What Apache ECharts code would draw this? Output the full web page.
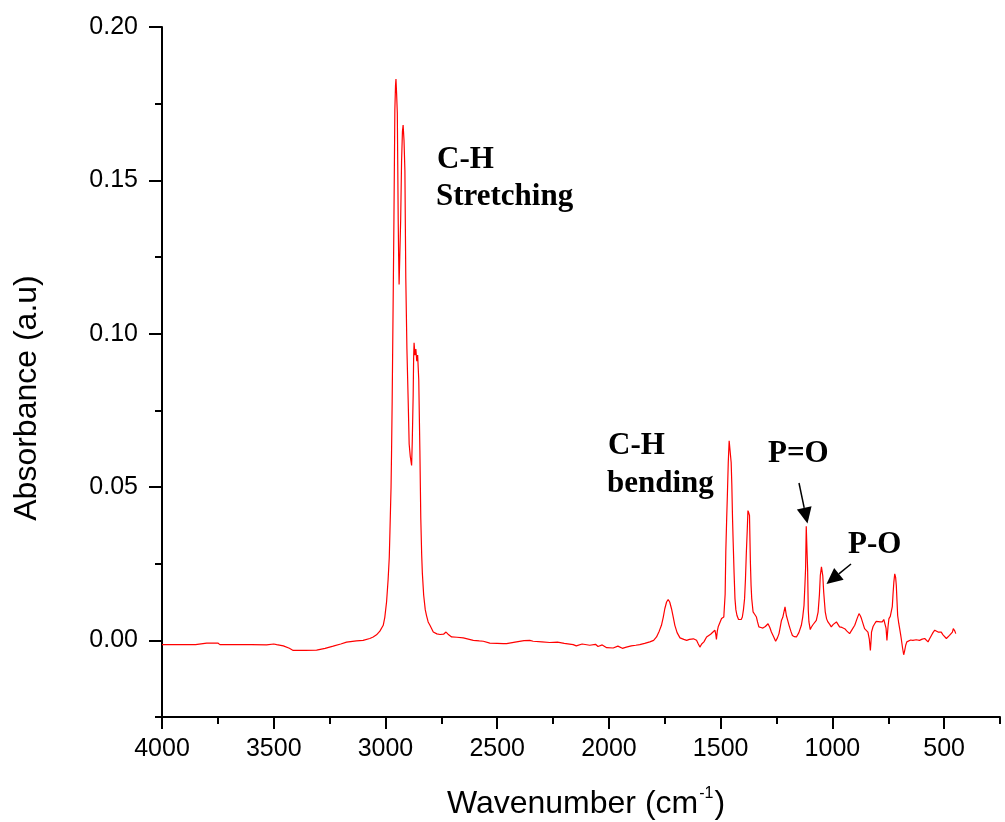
<!DOCTYPE html>
<html>
<head>
<meta charset="utf-8">
<script src="https://cdn.jsdelivr.net/npm/echarts@6/dist/echarts.min.js"></script>
<style>
html,body{margin:0;padding:0;background:#fff;}
#chart{width:1005px;height:822px;}
</style>
</head>
<body>
<div id="chart"></div>
<script>
// ---- data ----
const wavenumbers = [4000,3950,3900,3850,3800,3794,3750,3741,3700,3650,3600,3532,3500,3487,3457,3430,3413,3360,3308,3270,3234,3200,3174,3130,3100,3070,3055,3040,3025,3010,3003,2995,2988,2983,2980,2975,2973,2970,2968,2965,2962,2958,2955,2953,2950,2947,2945,2943,2941,2939,2936,2932,2928,2924,2921,2917,2913,2911,2909,2904,2898,2894,2889,2883,2880,2876,2874,2872,2868,2864,2860,2856,2851,2846,2842,2838,2835,2829,2822,2816,2809,2801,2786,2770,2756,2740,2729,2720,2704,2680,2652,2607,2580,2562,2533,2500,2473,2458,2420,2380,2354,2339,2300,2265,2230,2200,2160,2146,2120,2086,2060,2049,2030,2010,1981,1960,1940,1922,1900,1880,1862,1840,1817,1800,1787,1775,1765,1757,1750,1742,1735,1728,1720,1712,1705,1695,1682,1665,1652,1640,1622,1608,1600,1593,1585,1575,1563,1545,1526,1522,1519,1515,1511,1496,1486,1480,1477,1473,1470,1466,1462,1456,1453,1450,1447,1444,1440,1436,1432,1427,1420,1415,1408,1403,1398,1393,1389,1385,1381,1378,1374,1371,1367,1364,1361,1355,1348,1340,1335,1329,1320,1311,1300,1288,1280,1273,1263,1254,1246,1239,1233,1228,1222,1218,1212,1206,1200,1194,1186,1179,1170,1161,1150,1139,1133,1127,1123,1120,1117,1114,1111,1108,1105,1099,1095,1088,1080,1072,1064,1058,1054,1049,1047,1043,1039,1035,1032,1026,1020,1012,1005,996,990,982,975,968,957,945,935,923,912,900,890,881,875,870,862,856,848,841,835,830,826,825,818,811,804,796,786,777,770,765,760,756,751,747,741,736,732,729,725,721,717,714,711,708,703,699,695,692,686,681,677,672,667,662,650,640,625,610,598,587,580,572,565,557,550,542,535,527,520,513,505,498,490,483,476,470,463,459,456,452,448];
const absorbance = [-0.0014,-0.0014,-0.0014,-0.0014,-0.0009,-0.0014,-0.0009,-0.0014,-0.0014,-0.0014,-0.0014,-0.0015,-0.0012,-0.0014,-0.0018,-0.0026,-0.0033,-0.0033,-0.0032,-0.0026,-0.0019,-0.0012,-0.0006,-0.0002,0,0.0006,0.0011,0.0018,0.0030,0.0049,0.0075,0.0126,0.020,0.027,0.0354,0.050,0.060,0.078,0.093,0.115,0.138,0.173,0.181,0.183,0.178,0.172,0.155,0.137,0.125,0.116,0.125,0.137,0.156,0.166,0.168,0.163,0.153,0.135,0.118,0.095,0.077,0.064,0.060,0.057,0.065,0.080,0.092,0.097,0.093,0.095,0.091,0.093,0.085,0.062,0.040,0.028,0.022,0.0147,0.010,0.008,0.006,0.0049,0.0027,0.0021,0.0019,0.0020,0.0027,0.0020,0.0011,0.0010,0.0008,0.0000,-0.0002,-0.0003,-0.0009,-0.0010,-0.0011,-0.0011,-0.0006,-0.0001,0.0000,-0.0003,-0.0005,-0.0007,-0.0006,-0.0010,-0.0014,-0.0018,-0.0012,-0.0016,-0.0013,-0.0020,-0.0015,-0.0024,-0.0025,-0.0019,-0.0026,-0.0022,-0.0018,-0.0016,-0.0014,-0.0010,-0.0005,0.0000,0.0011,0.0030,0.0049,0.0075,0.0103,0.0125,0.0133,0.0125,0.0103,0.0075,0.0049,0.0025,0.0008,0.0003,0.0000,0.0003,0.0005,0.0000,-0.0012,-0.0022,-0.0012,-0.0005,0.0011,0.0020,0.0033,0.0020,0.0003,0.0030,0.0044,0.0071,0.0076,0.015,0.0288,0.040,0.0472,0.058,0.0651,0.0651,0.058,0.0505,0.040,0.032,0.022,0.0136,0.010,0.0081,0.0068,0.0065,0.0068,0.0076,0.010,0.0136,0.020,0.0288,0.036,0.0423,0.0415,0.0407,0.0255,0.018,0.0136,0.0093,0.0085,0.0076,0.006,0.0044,0.0042,0.0040,0.0045,0.0054,0.0042,0.0027,0.0012,-0.0003,0.0008,0.0022,0.0045,0.0065,0.0075,0.0081,0.0109,0.0081,0.0065,0.0049,0.0030,0.0016,0.0012,0.0011,0.0025,0.0049,0.0075,0.0114,0.018,0.0234,0.0372,0.030,0.0234,0.0100,0.0060,0.0035,0.0042,0.0050,0.0054,0.0065,0.0092,0.015,0.0212,0.0240,0.0244,0.021,0.0158,0.012,0.0093,0.0070,0.0060,0.0052,0.0044,0.0052,0.0047,0.0060,0.0052,0.0044,0.0042,0.0038,0.0030,0.0022,0.0035,0.0049,0.0070,0.0087,0.0080,0.0071,0.0052,0.0038,0.0032,0.0027,0.0005,-0.0033,0.0010,0.0027,0.0045,0.0054,0.0062,0.0065,0.0060,0.0060,0.0068,0.0071,0.0040,0.0000,0.0045,0.0071,0.0078,0.0081,0.0110,0.0147,0.0190,0.0217,0.0205,0.0179,0.0130,0.0081,0.0055,0.0038,0.0020,0.0006,-0.0025,-0.0047,-0.0035,-0.0016,-0.0005,0.0000,0.0001,0.0000,0.0002,0.0000,0.0004,0.0006,0.0002,-0.0005,0.0005,0.0016,0.0025,0.0033,0.0028,0.0027,0.0030,0.0027,0.0018,0.0012,0.0006,0.0010,0.0016,0.0022,0.0027,0.0038,0.0044,0.0030,0.0022];

// ---- axis ticks / labels ----
const xMajorTicks = [4000,3500,3000,2500,2000,1500,1000,500];
const xMinorTicks = [4000,3750,3500,3250,3000,2750,2500,2250,2000,1750,1500,1250,1000,750,500,250];
const yMajorTicks = [0,0.05,0.10,0.15,0.20];
const yMinorTicks = [-0.025,0,0.025,0.05,0.075,0.10,0.125,0.15,0.175,0.20];
const xRange = [250, 4000];
const yRange = [-0.025, 0.20];

const xTitle = 'Wavenumber (cm';
const xTitleSup = '-1';
const yTitle = 'Absorbance (a.u)';
const annotations = [
  {text: 'C-H', x: 437, y: 160},
  {text: 'Stretching', x: 436, y: 197},
  {text: 'C-H', x: 608, y: 446},
  {text: 'bending', x: 607, y: 484},
  {text: 'P=O', x: 768, y: 454},
  {text: 'P-O', x: 848, y: 545}
];
const arrows = [
  {from: [799, 483], to: [807.5, 523.5]},
  {from: [851, 564], to: [826.5, 584]}
];

const seriesData = wavenumbers.map((w, i) => [w, absorbance[i]]);

const labelFont = {color: '#000', fontFamily: '"Liberation Sans", Arial, sans-serif', fontSize: 25};
const axisLineStyle = {color: '#000', width: 2};

function arrowGraphics(a) {
  const [x1, y1] = a.from, [x2, y2] = a.to;
  const dx = x2 - x1, dy = y2 - y1, L = Math.hypot(dx, dy);
  const ux = dx / L, uy = dy / L;
  const hl = 16, hw = 7.5;
  const bx = x2 - ux * hl, by = y2 - uy * hl;
  return [
    {type: 'line', shape: {x1: x1, y1: y1, x2: bx, y2: by}, style: {stroke: '#000', lineWidth: 1.5}, silent: true},
    {type: 'polygon', shape: {points: [[x2, y2], [bx - uy * hw, by + ux * hw], [bx + uy * hw, by - ux * hw]]}, style: {fill: '#000'}, silent: true}
  ];
}

const graphics = [];
annotations.forEach(a => graphics.push({
  type: 'text', x: a.x, y: a.y, silent: true,
  style: {text: a.text, fill: '#000', font: 'bold 31px "Liberation Serif", "Times New Roman", serif',
          align: 'left', verticalAlign: 'middle', textAlign: 'left', textVerticalAlign: 'middle'}
}));
arrows.forEach(a => graphics.push(...arrowGraphics(a)));
graphics.push({
  type: 'text', x: 27, y: 398, rotation: Math.PI / 2, silent: true,
  style: {text: yTitle, fill: '#000', font: '32px "Liberation Sans", Arial, sans-serif',
          align: 'center', verticalAlign: 'middle', textAlign: 'center', textVerticalAlign: 'middle'}
});
graphics.push({
  type: 'text', x: 586, y: 804, silent: true,
  style: {
    text: '{a|' + xTitle + '}{s|' + xTitleSup + '}{a|)}',
    align: 'center', verticalAlign: 'middle', textAlign: 'center', textVerticalAlign: 'middle',
    rich: {
      a: {fontSize: 32, fontFamily: '"Liberation Sans", Arial, sans-serif', fill: '#000', color: '#000'},
      s: {fontSize: 16, fontFamily: '"Liberation Sans", Arial, sans-serif', fill: '#000', color: '#000', padding: [0, 1, 20, 1]}
    }
  }
});

const chart = echarts.init(document.getElementById('chart'), null, {renderer: 'canvas'});
chart.setOption({
  animation: false,
  backgroundColor: '#fff',
  grid: {left: 162, right: 5, top: 27, bottom: 105, containLabel: false},
  xAxis: [
    {
      type: 'value', inverse: true, min: xRange[0], max: xRange[1], position: 'bottom',
      axisLine: {show: true, onZero: false, lineStyle: axisLineStyle},
      axisTick: {show: true, inside: false, length: 12, lineStyle: axisLineStyle, customValues: xMajorTicks},
      axisLabel: {show: true, margin: 20, customValues: xMajorTicks, formatter: v => String(v), ...labelFont,
                  showMinLabel: true, showMaxLabel: true},
      splitLine: {show: false}
    },
    {
      type: 'value', inverse: true, min: xRange[0], max: xRange[1], position: 'bottom',
      axisLine: {show: false, onZero: false},
      axisTick: {show: true, inside: false, length: 7, lineStyle: axisLineStyle, customValues: xMinorTicks},
      axisLabel: {show: false},
      splitLine: {show: false}
    }
  ],
  yAxis: [
    {
      type: 'value', min: yRange[0], max: yRange[1], position: 'left',
      axisLine: {show: true, onZero: false, lineStyle: axisLineStyle},
      axisTick: {show: true, inside: false, length: 13, lineStyle: axisLineStyle, customValues: yMajorTicks},
      axisLabel: {show: true, margin: 24, customValues: yMajorTicks, formatter: v => v.toFixed(2), ...labelFont},
      splitLine: {show: false}
    },
    {
      type: 'value', min: yRange[0], max: yRange[1], position: 'left',
      axisLine: {show: false, onZero: false},
      axisTick: {show: true, inside: false, length: 7, lineStyle: axisLineStyle, customValues: yMinorTicks},
      axisLabel: {show: false},
      splitLine: {show: false}
    }
  ],
  series: [{
    type: 'line', xAxisIndex: 0, yAxisIndex: 0,
    data: seriesData, showSymbol: false, symbol: 'none',
    lineStyle: {color: '#ff0000', width: 1.2},
    itemStyle: {color: '#ff0000'},
    silent: true
  }],
  graphic: graphics
});
</script>
</body>
</html>
